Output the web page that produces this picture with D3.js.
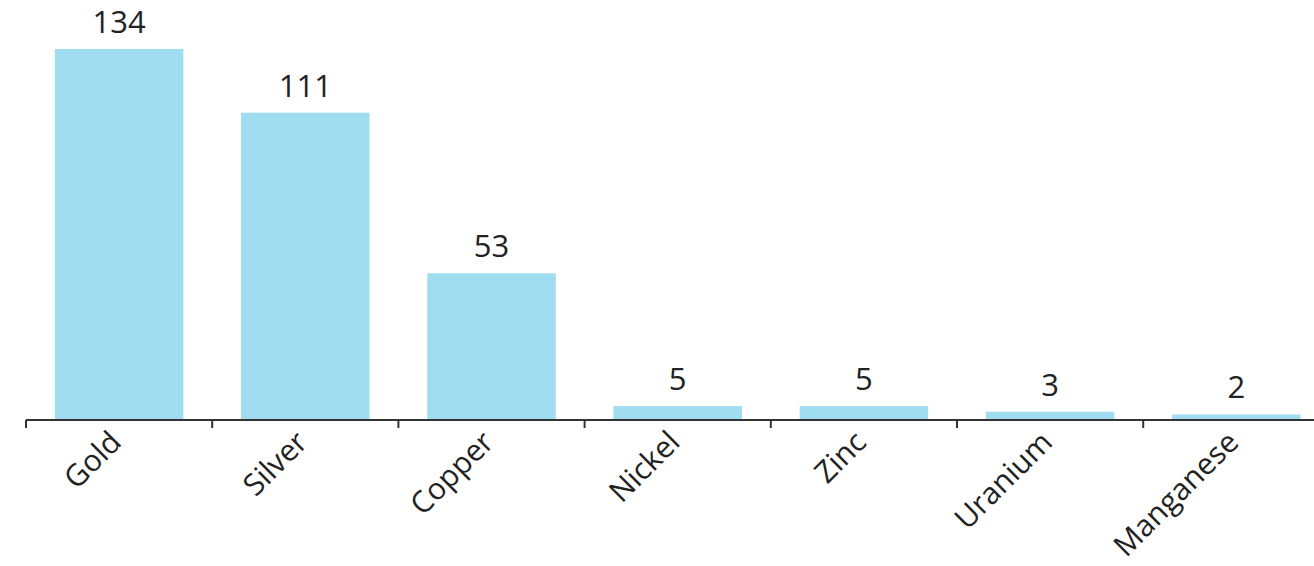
<!DOCTYPE html>
<html>
<head>
<meta charset="utf-8">
<script src="https://cdn.jsdelivr.net/npm/d3@7"></script>
<style>
  html, body { margin: 0; padding: 0; background: #fff; }
  svg { display: block; }
  text { font-family: "Open Sans", "Noto Sans", sans-serif; fill: #222; }
</style>
</head>
<body>
<svg id="chart" width="1314" height="566"></svg>
<script>
// Metals and their counts
const metals = ["Gold", "Silver", "Copper", "Nickel", "Zinc", "Uranium", "Manganese"];
const counts = [134, 111, 53, 5, 5, 3, 2];

const svg = d3.select("#chart");
const baseY = 420;
const topY = 49;

const x = d3.scaleBand()
  .domain(metals)
  .range([26, 26 + 186.2 * metals.length])
  .paddingInner(0.31)
  .paddingOuter(0.155);

const y = d3.scaleLinear()
  .domain([0, 134])
  .range([baseY, topY]);

const data = metals.map((m, i) => ({ metal: m, value: counts[i] }));

// bars
svg.append("g")
  .selectAll("rect")
  .data(data)
  .join("rect")
  .attr("x", d => x(d.metal))
  .attr("y", d => y(d.value))
  .attr("width", x.bandwidth())
  .attr("height", d => baseY - y(d.value))
  .attr("fill", "#a0ddf0");

// value labels
svg.append("g")
  .selectAll("text")
  .data(data)
  .join("text")
  .attr("x", d => x(d.metal) + x.bandwidth() / 2)
  .attr("y", d => y(d.value) - 16)
  .attr("text-anchor", "middle")
  .attr("font-size", 31)
  .attr("font-weight", 500)
  .text(d => d.value);

// category axis with ticks at band boundaries
const axisG = svg.append("g").attr("transform", `translate(0,${baseY})`);
const [r0, r1] = x.range();
axisG.append("line")
  .attr("x1", r0).attr("x2", r1)
  .attr("y1", 0).attr("y2", 0)
  .attr("stroke", "#333").attr("stroke-width", 2);

const step = x.step();
axisG.selectAll("line.tick")
  .data(metals)
  .join("line")
  .attr("class", "tick")
  .attr("x1", (d, i) => r0 + i * step)
  .attr("x2", (d, i) => r0 + i * step)
  .attr("y1", 0).attr("y2", 8)
  .attr("stroke", "#333").attr("stroke-width", 2);

axisG.selectAll("text.lbl")
  .data(metals)
  .join("text")
  .attr("class", "lbl")
  .attr("font-size", 30)
  .attr("font-weight", 500)
  .attr("text-anchor", "end")
  .attr("transform", d => `translate(${x(d) + x.bandwidth() / 2 + 4},${24}) rotate(-45)`)
  .text(d => d);
</script>
</body>
</html>
